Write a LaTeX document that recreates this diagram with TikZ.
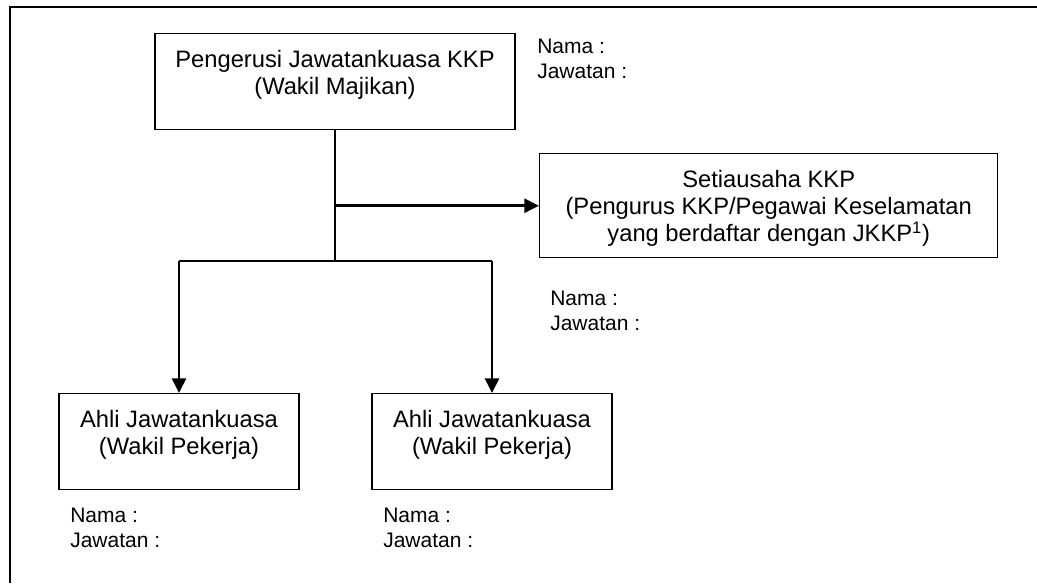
\documentclass[tikz,border=0pt]{standalone}
\usepackage{fontspec}
\setmainfont{Liberation Sans}
\usetikzlibrary{positioning, arrows.meta}

\begin{document}
\begin{tikzpicture}[x=0.75pt, y=-0.75pt,
  kotak/.style={draw, line width=1.1pt, inner sep=0pt, align=center,
    text height=45.75pt, text depth=26.25pt,
    font=\fontsize{17.8pt}{20.3pt}\selectfont},
  catatan/.style={inner sep=0pt, anchor=base west, align=left,
    font=\fontsize{15.75pt}{18.75pt}\selectfont},
  garis/.style={line width=1.9pt},
  panah/.style={garis, -{Triangle[length=11pt, width=10.5pt]}}]
\useasboundingbox (0,0) rectangle (1037,583);
\draw[line width=1.5pt] (10,583) -- (10,7) -- (1037,7); %bingkai
%
\node[kotak, minimum width=270pt, anchor=north] (ketua) at (335,33)
  {Pengerusi Jawatankuasa KKP\\(Wakil Majikan)};
\node[kotak, minimum width=343.5pt, anchor=north west, text height=66pt, text depth=12pt] (setia) at (539,153)
  {Setiausaha KKP\\(Pengurus KKP/Pegawai Keselamatan\\yang berdaftar dengan JKKP\textsuperscript{1})};
\node[kotak, minimum width=180pt, anchor=north] (ahli1) at (179,393)
  {Ahli Jawatankuasa\\(Wakil Pekerja)};
\node[kotak, minimum width=180pt, anchor=north] (ahli2) at (492,393)
  {Ahli Jawatankuasa\\(Wakil Pekerja)};
%
\node[catatan] (nama0) at (537,78) {Nama :\\Jawatan :};
\node[catatan] (nama1) at (550,330) {Nama :\\Jawatan :};
\node[catatan] (nama2) at (70,547) {Nama :\\Jawatan :};
\node[catatan] (nama3) at (383,547) {Nama :\\Jawatan :};
%
\coordinate (simpang) at (335,261);
\draw[garis] (ketua.south) -- (simpang);
\draw[panah] (ketua.south |- setia.west) -- (setia.west);
\draw[garis] (ahli1.north |- simpang) -- (ahli2.north |- simpang);
\draw[panah] (ahli1.north |- simpang) -- (ahli1.north);
\draw[panah] (ahli2.north |- simpang) -- (ahli2.north);
\end{tikzpicture}
\end{document}
